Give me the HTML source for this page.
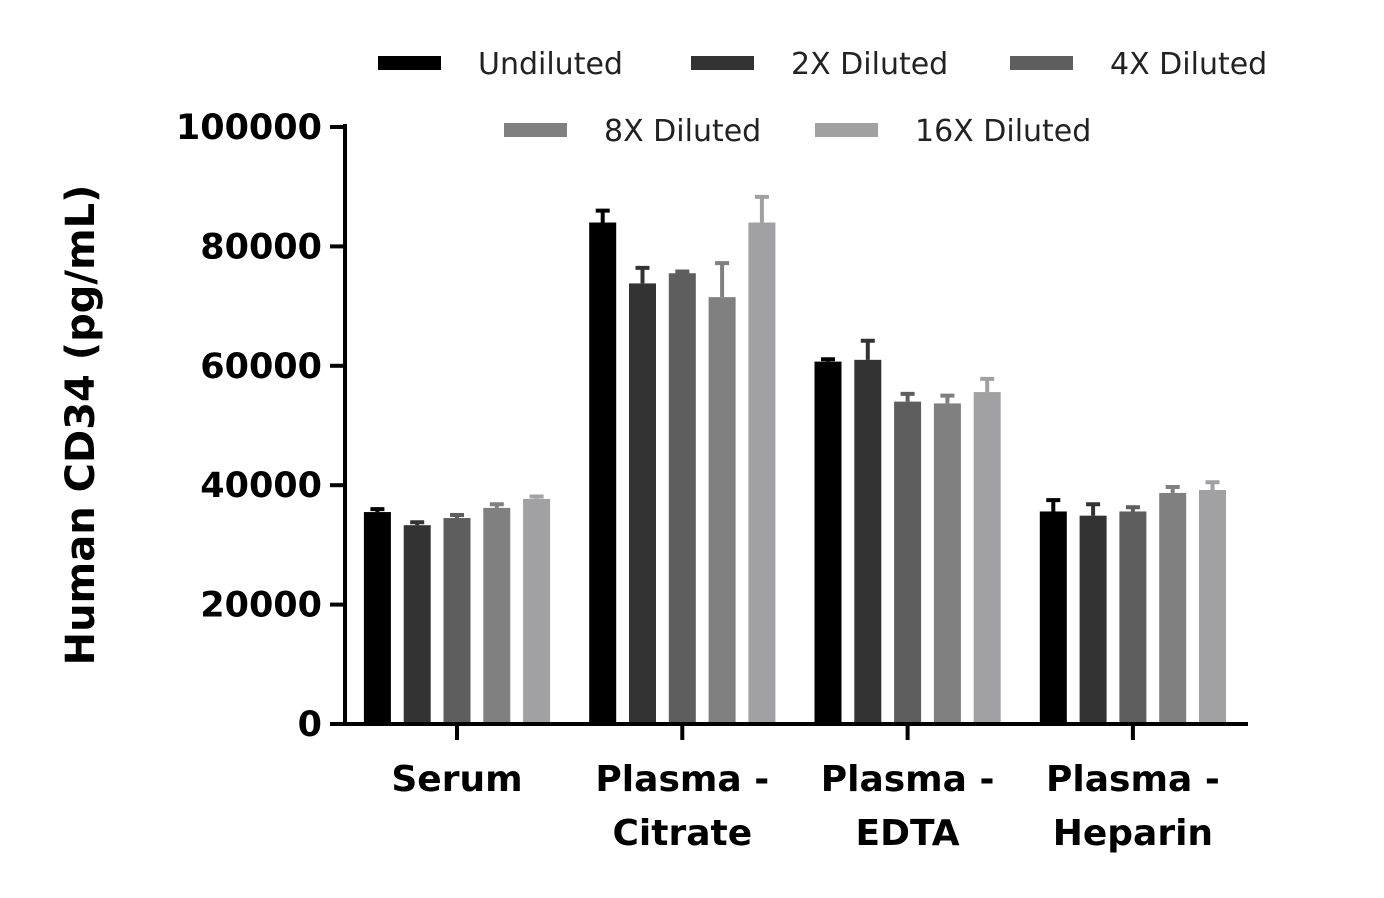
<!DOCTYPE html>
<html><head><meta charset="utf-8"><style>
html,body{margin:0;padding:0;background:#fff;}
svg{display:block;font-family:"DejaVu Sans","Liberation Sans",sans-serif;}
</style></head><body>
<svg id="chart" width="1384" height="898" viewBox="0 0 1384 898">
<g id="plot"></g>
<text transform="translate(94,425) rotate(-90)" text-anchor="middle" font-size="40" font-weight="bold" fill="#000">Human CD34 (pg/mL)</text>
</svg>
<script>
const categories=[["Serum"],["Plasma -","Citrate"],["Plasma -","EDTA"],["Plasma -","Heparin"]];
const seriesNames=["Undiluted","2X Diluted","4X Diluted","8X Diluted","16X Diluted"];
const undiluted=[35500,84000,60700,35600];
const diluted2x=[33300,73800,61000,34900];
const diluted4x=[34500,75500,54000,35600];
const diluted8x=[36200,71500,53700,38700];
const diluted16x=[37700,84000,55600,39200];
const err_undiluted=[500,2000,400,1900];
const err_2x=[500,2600,3200,1900];
const err_4x=[500,300,1300,700];
const err_8x=[600,5700,1300,1000];
const err_16x=[400,4300,2200,1300];
const yTicks=[0,20000,40000,60000,80000,100000];

const series=[undiluted,diluted2x,diluted4x,diluted8x,diluted16x];
const errs=[err_undiluted,err_2x,err_4x,err_8x,err_16x];
const colors=["#000000","#333333","#5e5e5e","#808080","#a1a1a4"];
const NS="http://www.w3.org/2000/svg";
const g=document.getElementById('plot');
const y0=724,y1=127,yMax=100000;
function yScale(v){return y0-(v/yMax)*(y0-y1);}
const groupCenters0=457,groupStep=225.3,barStep=39.8,barW=27;
function xGroup(i){return groupCenters0+i*groupStep;}
function xBar(i,s){return xGroup(i)+(s-2)*barStep;}
function mk(tag,attrs){const e=document.createElementNS(NS,tag);for(const k in attrs)e.setAttribute(k,attrs[k]);g.appendChild(e);return e;}

// bars and error bars
categories.forEach((c,i)=>{
  series.forEach((arr,s)=>{
    const cx=xBar(i,s),v=arr[i],top=yScale(v);
    const r=mk('rect',{x:cx-barW/2,y:top,width:barW,height:y0-top,fill:colors[s]});
    
    
    const et=yScale(v+errs[s][i]);
    const l=mk('path',{d:`M${cx} ${top} V${et} M${cx-7} ${et} H${cx+7}`,stroke:colors[s],'stroke-width':4,fill:'none'});
    
    
  });
});
// axes
const ya=mk('line',{x1:345,y1:124,x2:345,y2:726,stroke:'#000','stroke-width':4});


const xa=mk('line',{x1:330,y1:724,x2:1248,y2:724,stroke:'#000','stroke-width':4});


yTicks.forEach(t=>{
  const y=yScale(t);
  const tk=mk('line',{x1:330,y1:y,x2:345,y2:y,stroke:'#000','stroke-width':4});
  
  
  const tx=mk('text',{x:322,y:y+12,'text-anchor':'end','font-size':35,'font-weight':'bold'});
  tx.textContent=String(t);
  
  
});
categories.forEach((c,i)=>{
  const x=xGroup(i);
  const tk=mk('line',{x1:x,y1:724,x2:x,y2:740,stroke:'#000','stroke-width':4});
  
  
  c.forEach((ln,j)=>{
    const tx=mk('text',{x:x,y:791+j*54,'text-anchor':'middle','font-size':36,'font-weight':'bold'});
    tx.textContent=ln;
    
    
  });
});
// legend
const legPos=[[378,63],[691,63],[1010,63],[504,130],[815,130]];
seriesNames.forEach((n,s)=>{
  const [lx,ly]=legPos[s];
  const sw=mk('rect',{x:lx,y:ly-7,width:63,height:14,fill:colors[s]});
  
  
  const tx=mk('text',{x:lx+100,y:ly+11,'font-size':30,fill:'#222'});
  tx.textContent=n;
  
  
});
</script>
</body></html>
